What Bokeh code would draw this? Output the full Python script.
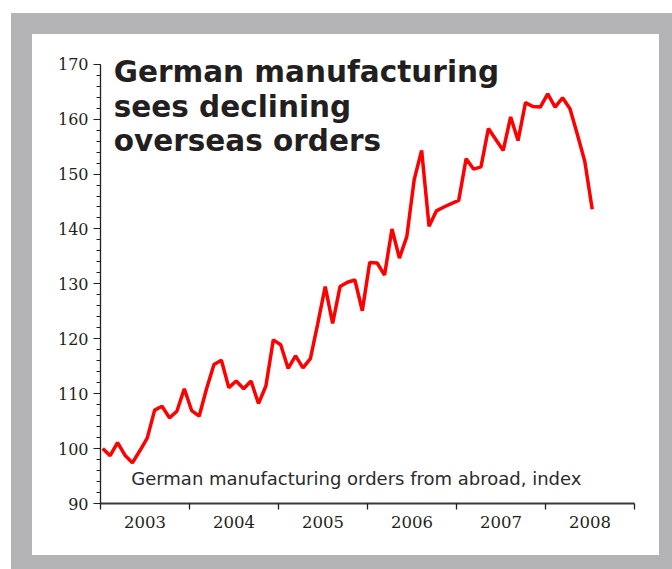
import pandas as pd
from bokeh.plotting import figure
from bokeh.layouts import column
from bokeh.models import Range1d, FixedTicker, SingleIntervalTicker, Label
from bokeh.embed import file_html
from bokeh.resources import INLINE

# ---- data -------------------------------------------------------------
start_month = "2003-01"
orders_index = [
    100.0, 98.7, 101.1, 98.8, 97.4, 99.6, 101.9, 107.0, 107.7, 105.6, 106.8, 110.9,   # 2003
    106.9, 105.9, 110.9, 115.3, 116.1, 111.1, 112.3, 110.9, 112.3, 108.2, 111.4, 119.8,  # 2004
    118.9, 114.6, 116.9, 114.7, 116.4, 122.8, 129.5, 122.8, 129.5, 130.3, 130.7, 125.1,  # 2005
    133.9, 133.8, 131.6, 140.0, 134.7, 138.6, 149.0, 154.3, 140.5, 143.3, 144.0, 144.6,  # 2006
    145.2, 152.8, 150.9, 151.3, 158.3, 156.3, 154.3, 160.4, 156.1, 163.0, 162.3, 162.2,  # 2007
    164.6, 162.2, 163.9, 161.9, 157.2, 152.3, 143.6,                                     # 2008
]
year_labels = ["2003", "2004", "2005", "2006", "2007", "2008"]
year_bounds = [2003, 2004, 2005, 2006, 2007, 2008, 2009]
y_axis_bounds = (90, 170)
title_lines = ["German manufacturing", "sees declining", "overseas orders"]
subtitle = "German manufacturing orders from abroad, index"

months = pd.date_range(start_month, periods=len(orders_index), freq="MS")
xs = list(months.year + (months.month - 1 + 0.3) / 12.0)

# ---- figure (the white panel) ----------------------------------------
W, H = 627, 521
p = figure(width=W, height=H, output_backend="svg", toolbar_location=None,
           x_range=Range1d(2003, 2009), y_range=Range1d(90, 172.5),
           min_border_left=68, min_border_right=25,
           min_border_top=16, min_border_bottom=52,
           background_fill_color="white", border_fill_color="white")
p.outline_line_color = None
p.grid.visible = False

# y axis (line limited to 90..170, frame a little taller so the title fits)
ya = p.yaxis[0]
ya.bounds = y_axis_bounds
ya.ticker = SingleIntervalTicker(interval=10, num_minor_ticks=5)
ya.major_tick_in = 0
ya.major_tick_out = 7
ya.minor_tick_in = 0
ya.minor_tick_out = 4
ya.axis_line_color = "#231f20"
ya.axis_line_width = 1.3
ya.major_tick_line_color = "#231f20"
ya.minor_tick_line_color = "#231f20"
ya.major_label_text_font = "DejaVu Serif"
ya.major_label_text_font_size = "16px"
ya.major_label_text_color = "#231f20"
ya.major_label_standoff = 5

# x axis: ticks at year boundaries, labels centred in each year
label_pos = [b + 0.5 for b in year_bounds[:-1]]
xa = p.xaxis[0]
xa.ticker = FixedTicker(ticks=label_pos, minor_ticks=year_bounds)
xa.major_label_overrides = {pos: lab for pos, lab in zip(label_pos, year_labels)}
xa.major_tick_in = 0
xa.major_tick_out = 0
xa.minor_tick_in = 0
xa.minor_tick_out = 6
xa.axis_line_color = "#3a3a3a"
xa.axis_line_width = 2
xa.minor_tick_line_color = "#231f20"
xa.minor_tick_line_width = 1.3
xa.major_label_text_font = "DejaVu Serif"
xa.major_label_text_font_size = "16.5px"
xa.major_label_text_color = "#231f20"
xa.major_label_standoff = 6

# data line
p.line(xs, orders_index, line_color="#ff0000", line_width=3.5)

# title (three lines) and subtitle
title_x = 2003.148
title_ys = [168.5, 162.3, 156.1]
for txt, ty in zip(title_lines, title_ys):
    p.add_layout(Label(x=title_x, y=ty, text=txt, text_font="DejaVu Sans",
                       text_font_style="bold", text_font_size="29.5px",
                       text_color="#231f20", text_baseline="alphabetic"))
p.add_layout(Label(x=2003.345, y=94.6, text=subtitle, text_font="DejaVu Sans",
                   text_font_size="18px", text_color="#2b2b2b",
                   text_baseline="alphabetic"))

# white backing, grey frame around the white panel, thin white margin outside
panel = column(p, styles={"background-color": "white"})
inner = column(panel, styles={"background-color": "#b4b4b6",
                              "padding": "21px 13px 14px 21px"})
outer = column(inner, styles={"background-color": "white",
                              "padding": "13px 0px 0px 11px"})

open("out.html", "w").write(file_html(outer, INLINE))
